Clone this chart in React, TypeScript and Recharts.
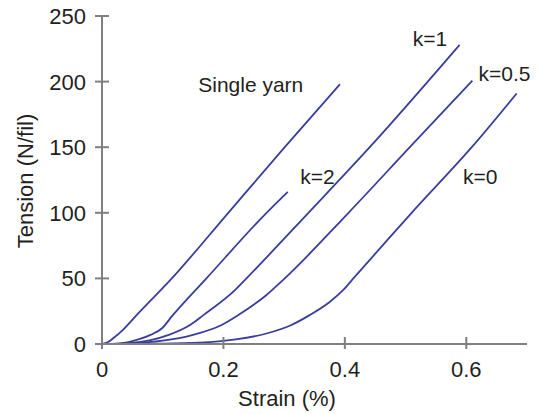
import React from "react";
import { LineChart, Line, XAxis, YAxis, ReferenceDot } from "recharts";

// strain (%) vs tension (N/fil)
const singleYarn = [
  { strain: 0, tension: 0 },
  { strain: 0.01, tension: 1.5 },
  { strain: 0.02, tension: 5 },
  { strain: 0.035, tension: 11 },
  { strain: 0.057, tension: 22 },
  { strain: 0.115, tension: 50 },
  { strain: 0.208, tension: 100 },
  { strain: 0.301, tension: 150 },
  { strain: 0.392, tension: 198 },
];

const k2 = [
  { strain: 0, tension: 0 },
  { strain: 0.03, tension: 0.5 },
  { strain: 0.06, tension: 3.5 },
  { strain: 0.08, tension: 7 },
  { strain: 0.099, tension: 12 },
  { strain: 0.115, tension: 21 },
  { strain: 0.172, tension: 50 },
  { strain: 0.271, tension: 100 },
  { strain: 0.306, tension: 116 },
];

const k1 = [
  { strain: 0, tension: 0 },
  { strain: 0.04, tension: 0.5 },
  { strain: 0.08, tension: 3 },
  { strain: 0.11, tension: 7 },
  { strain: 0.145, tension: 14.5 },
  { strain: 0.167, tension: 22 },
  { strain: 0.219, tension: 41 },
  { strain: 0.238, tension: 50 },
  { strain: 0.34, tension: 100 },
  { strain: 0.441, tension: 150 },
  { strain: 0.589, tension: 228 },
];

const k05 = [
  { strain: 0, tension: 0 },
  { strain: 0.05, tension: 0.5 },
  { strain: 0.1, tension: 2.5 },
  { strain: 0.15, tension: 7 },
  { strain: 0.197, tension: 14.5 },
  { strain: 0.224, tension: 22 },
  { strain: 0.27, tension: 37 },
  { strain: 0.301, tension: 50 },
  { strain: 0.406, tension: 100 },
  { strain: 0.507, tension: 150 },
  { strain: 0.61, tension: 200.7 },
];

const k0 = [
  { strain: 0, tension: 0 },
  { strain: 0.1, tension: 0.3 },
  { strain: 0.16, tension: 1 },
  { strain: 0.22, tension: 3.5 },
  { strain: 0.271, tension: 8 },
  { strain: 0.312, tension: 14.5 },
  { strain: 0.342, tension: 22 },
  { strain: 0.375, tension: 32 },
  { strain: 0.397, tension: 41 },
  { strain: 0.414, tension: 50 },
  { strain: 0.46, tension: 74 },
  { strain: 0.51, tension: 100 },
  { strain: 0.609, tension: 150 },
  { strain: 0.683, tension: 191 },
];

const strainTicks = [0, 0.2, 0.4, 0.6];
const tensionTicks = [0, 50, 100, 150, 200, 250];

const curveLabels = [
  { text: "Single yarn", strain: 0.245, tension: 198 },
  { text: "k=2", strain: 0.355, tension: 128 },
  { text: "k=1", strain: 0.54, tension: 233 },
  { text: "k=0.5", strain: 0.663, tension: 206 },
  { text: "k=0", strain: 0.623, tension: 127.7 },
];

const series = [singleYarn, k2, k1, k05, k0];

const FONT = "'Liberation Sans', Arial, Helvetica, sans-serif";
const TEXT = "#231f20";
const AXIS = "#808080";
const CURVE = "#3b3d9e";

const XTick = (props: any) => {
  const { x, y, payload } = props;
  return (
    <g>
      <line x1={x} x2={x} y1={y - 7} y2={y + 5} stroke={AXIS} strokeWidth={2} />
      <text x={x} y={y + 33} textAnchor="middle" fontSize={22} fill={TEXT} fontFamily={FONT}>
        {payload.value}
      </text>
    </g>
  );
};

const YTick = (props: any) => {
  const { x, y, payload } = props;
  return (
    <g>
      <line x1={x - 7} x2={x + 7} y1={y} y2={y} stroke={AXIS} strokeWidth={2} />
      <text x={x - 16} y={y + 8} textAnchor="end" fontSize={22} fill={TEXT} fontFamily={FONT}>
        {payload.value}
      </text>
    </g>
  );
};

const XTitle = (props: any) => {
  const { x, y } = props.viewBox;
  return (
    <text x={x + 185} y={y + 62} textAnchor="middle" fontSize={22} fill={TEXT} fontFamily={FONT}>
      Strain (%)
    </text>
  );
};

const YTitle = (props: any) => {
  const { x, y, height } = props.viewBox;
  const cx = x + 17;
  const cy = y + height / 2 + 1;
  return (
    <text
      x={cx}
      y={cy}
      transform={`rotate(-90 ${cx} ${cy})`}
      textAnchor="middle"
      dominantBaseline="central"
      fontSize={22}
      fill={TEXT}
      fontFamily={FONT}
    >
      Tension (N/fil)
    </text>
  );
};

export default function App() {
  return (
    <div style={{ margin: "-8px 0 0 -8px" }}>
      <LineChart width={540} height={414} margin={{ top: 16, right: 13, bottom: 0, left: 8 }}>
        <XAxis
          type="number"
          dataKey="strain"
          domain={[0, 0.7]}
          ticks={strainTicks}
          tick={<XTick />}
          tickSize={0}
          tickMargin={0}
          tickLine={false}
          axisLine={{ stroke: AXIS, strokeWidth: 2 }}
          height={70}
          label={(p: any) => <XTitle {...p} />}
        />
        <YAxis
          type="number"
          domain={[0, 250]}
          ticks={tensionTicks}
          tick={<YTick />}
          tickSize={0}
          tickMargin={0}
          tickLine={false}
          axisLine={{ stroke: AXIS, strokeWidth: 2 }}
          width={94}
          label={(p: any) => <YTitle {...p} />}
        />
        {series.map((d, i) => (
          <Line
            key={i}
            data={d}
            dataKey="tension"
            type="monotone"
            stroke={CURVE}
            strokeWidth={1.8}
            dot={false}
            activeDot={false}
            isAnimationActive={false}
          />
        ))}
        {curveLabels.map((l) => (
          <ReferenceDot
            key={l.text}
            x={l.strain}
            y={l.tension}
            r={0}
            fill="none"
            stroke="none"
            label={{ value: l.text, position: "center", fontSize: 21, fill: TEXT, fontFamily: FONT }}
          />
        ))}
      </LineChart>
    </div>
  );
}
